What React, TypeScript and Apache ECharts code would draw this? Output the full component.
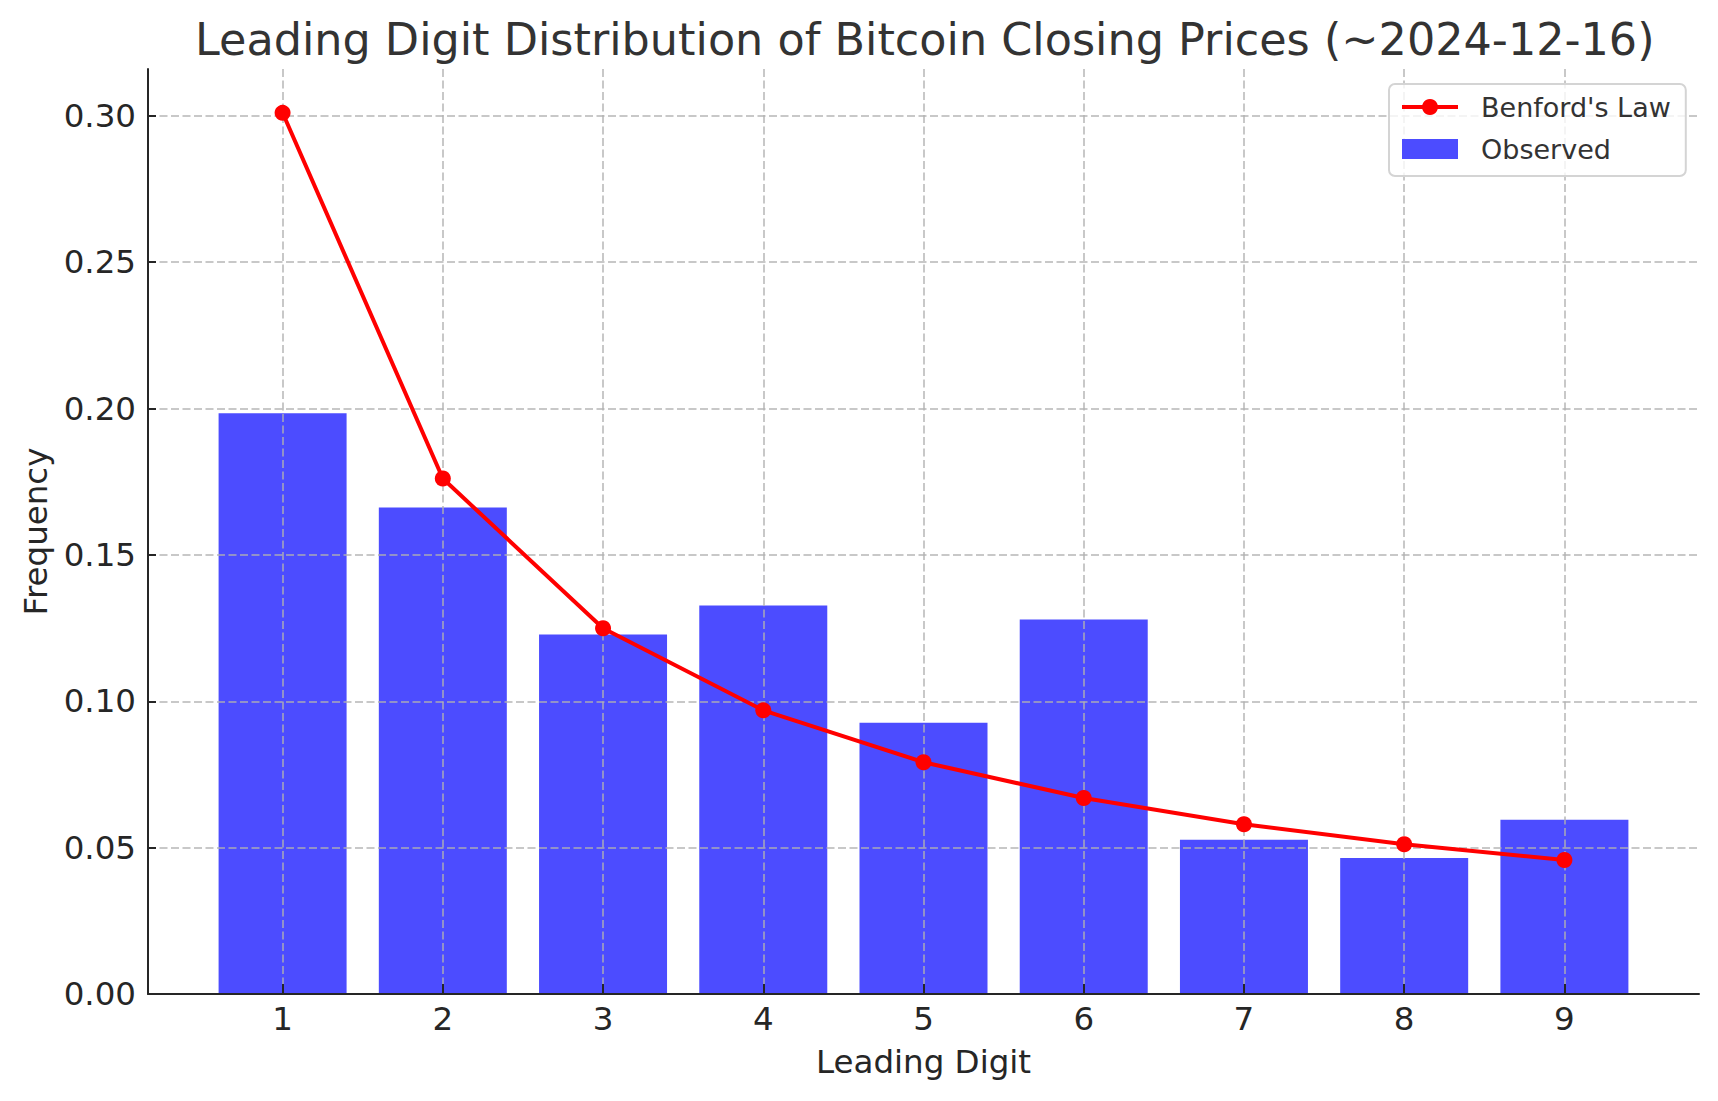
import React, { useEffect, useRef } from "react";
import * as echarts from "echarts";

const digits = [1, 2, 3, 4, 5, 6, 7, 8, 9];
const observed = [0.1984, 0.1662, 0.1228, 0.1327, 0.0927, 0.1279, 0.0527, 0.0465, 0.0595];
const benford = [0.30103, 0.17609, 0.12494, 0.09691, 0.07918, 0.06695, 0.05799, 0.05115, 0.04576];
const xTicks = [1, 2, 3, 4, 5, 6, 7, 8, 9];
const yTicks = [0, 0.05, 0.1, 0.15, 0.2, 0.25, 0.3];

const FONT = "DejaVu Sans";
const INK = "#262626";
const GRID = "rgba(176,176,176,0.7)";

export default function App() {
  const ref = useRef<HTMLDivElement>(null);
  useEffect(() => {
    document.body.style.margin = "0";
    if (!ref.current) return;
    const chart = echarts.init(ref.current, null, { renderer: "svg" });
    chart.setOption({
      animation: false,
      backgroundColor: "#ffffff",
      textStyle: { fontFamily: FONT },
      title: {
        text: "Leading Digit Distribution of Bitcoin Closing Prices (~2024-12-16)",
        left: 195,
        top: 17,
        padding: 0,
        textStyle: { fontFamily: FONT, fontSize: 44.5, fontWeight: "normal", color: "#333333" },
      },
      legend: {
        orient: "vertical",
        left: 1389,
        top: 84,
        padding: [8, 15, 12, 11],
        itemWidth: 56,
        itemHeight: 20,
        itemGap: 12,
        borderColor: "#d4d4d4",
        borderWidth: 2,
        borderRadius: 6,
        backgroundColor: "rgba(255,255,255,0.8)",
        textStyle: { fontFamily: FONT, fontSize: 27, color: "#333333", lineHeight: 30, padding: [0, 0, 0, 18] },
        data: [
          { name: "Benford's Law", lineStyle: { width: 4, color: "#ff0000" } },
          { name: "Observed", icon: "rect" },
        ],
      },
      grid: { left: 148, right: 19, top: 69, bottom: 107, containLabel: false },
      xAxis: {
        type: "value",
        min: 0.16,
        max: 9.84,
        z: 3,
        name: "Leading Digit",
        nameLocation: "middle",
        nameGap: 51,
        nameTextStyle: { fontFamily: FONT, fontSize: 32.5, color: INK },
        axisLine: { show: true, lineStyle: { color: INK, width: 2 } },
        axisTick: { show: true, inside: true, length: 10, customValues: xTicks, lineStyle: { color: INK, width: 2 } },
        axisLabel: { show: true, customValues: xTicks, margin: 8, fontFamily: FONT, fontSize: 32.5, color: INK, formatter: (v: number) => String(v) },
        splitLine: { show: true, lineStyle: { color: GRID, width: 2, type: [8, 3.5] } },
      },
      yAxis: {
        type: "value",
        min: 0,
        max: 0.316,
        z: 3,
        name: "Frequency",
        nameLocation: "middle",
        nameGap: 94,
        nameRotate: 90,
        nameTextStyle: { fontFamily: FONT, fontSize: 32.5, color: INK },
        axisLine: { show: true, lineStyle: { color: INK, width: 2 } },
        axisTick: { show: true, inside: true, length: 8, customValues: yTicks, lineStyle: { color: INK, width: 2 } },
        axisLabel: { show: true, customValues: yTicks, margin: 12, fontFamily: FONT, fontSize: 32.5, color: INK, formatter: (v: number) => v.toFixed(2) },
        splitLine: { show: true, lineStyle: { color: GRID, width: 2, type: [8, 3.5] } },
      },
      series: [
        {
          name: "Observed",
          type: "bar",
          z: 2,
          barWidth: 128,
          itemStyle: { color: "#4c4cff" },
          data: digits.map((d, i) => [d, observed[i]]),
        },
        {
          name: "Benford's Law",
          type: "line",
          z: 5,
          symbol: "circle",
          symbolSize: 16,
          lineStyle: { color: "#ff0000", width: 4 },
          itemStyle: { color: "#ff0000" },
          data: digits.map((d, i) => [d, benford[i]]),
        },
      ],
    });
    return () => chart.dispose();
  }, []);
  return <div ref={ref} style={{ width: 1718, height: 1101 }} />;
}
